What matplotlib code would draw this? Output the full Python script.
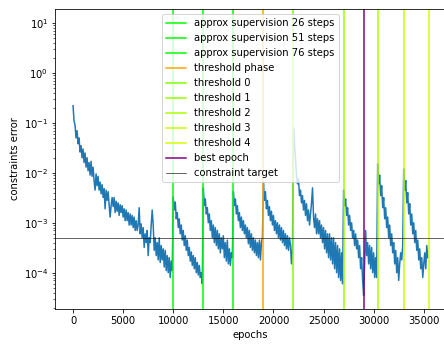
import matplotlib
matplotlib.use("Agg")
import matplotlib.pyplot as plt
import numpy as np

# constraint error logged every 100 epochs, one list per training phase
err_phase0 = [0.22, 0.11, 0.09, 0.05, 0.07, 0.038, 0.05, 0.026, 0.035, 0.02,
              0.03, 0.016, 0.025, 0.013, 0.02, 0.011, 0.016, 0.009, 0.017, 0.0085,
              0.013, 0.007, 0.0045, 0.0095, 0.0055, 0.0085, 0.0045, 0.0065, 0.0038, 0.0058,
              0.0032, 0.0048, 0.0019, 0.0045, 0.0028, 0.0042, 0.0024, 0.0013, 0.0022, 0.0032,
              0.0021, 0.0032, 0.0016, 0.0027, 0.0017, 0.0025, 0.0014, 0.0023, 0.0016, 0.0022,
              0.0013, 0.0019, 0.0011, 0.0018, 0.0011, 0.0016, 0.0009, 0.0015, 0.0009, 0.0014,
              0.0008, 0.0013, 0.0007, 0.0011, 0.0007, 0.0009, 0.002, 0.0006, 0.00095, 0.0005,
              0.0008, 0.00032, 0.0006, 0.0004, 0.0007, 0.00022, 0.0005, 0.0004, 0.0009, 0.0018,
              0.0009, 0.00028, 0.0005, 0.00022, 0.0004, 0.00018, 0.0005, 0.00016, 0.00035, 0.00018,
              0.0003, 0.00013, 0.00028, 0.00011, 0.00022, 0.0001, 0.0002, 0.00008, 0.00017, 0.00011]
err_approx26 = [0.0033, 0.0018, 0.0026, 0.0012, 0.0016, 0.0008, 0.0012, 0.0006, 0.0009, 0.00045,
                0.0007, 0.00035, 0.00055, 0.00028, 0.00045, 0.00022, 0.00032, 0.00017, 0.00026, 0.00014,
                0.00022, 0.00012, 0.0002, 0.0001, 0.00016, 0.00009, 0.00014, 0.00008, 0.0001, 0.00006]
err_approx51 = [0.005, 0.0022, 0.003, 0.0015, 0.002, 0.001, 0.0015, 0.0007, 0.0011, 0.0005,
                0.0009, 0.0004, 0.0008, 0.00035, 0.0007, 0.0003, 0.0006, 0.00025, 0.0005, 0.0003,
                0.00055, 0.0002, 0.0004, 0.00017, 0.00045, 0.00015, 0.0003, 0.00014, 0.00025, 0.0002]
err_approx76 = [0.0042, 0.0022, 0.003, 0.0015, 0.0022, 0.0011, 0.0016, 0.0008, 0.0013, 0.0007,
                0.0011, 0.0006, 0.0009, 0.0005, 0.0008, 0.00038, 0.0007, 0.00032, 0.0006, 0.00028,
                0.0005, 0.00025, 0.00045, 0.00022, 0.0004, 0.0002, 0.00045, 0.00018, 0.0004, 0.0005]
err_thr_phase = [0.0063, 0.0028, 0.0042, 0.0019, 0.0028, 0.0014, 0.0021, 0.0011, 0.0017, 0.0009,
                 0.0014, 0.0007, 0.0011, 0.0006, 0.001, 0.0005, 0.0009, 0.00045, 0.0008, 0.0004,
                 0.0007, 0.00035, 0.0006, 0.0003, 0.00055, 0.00028, 0.0005, 0.00035, 0.00015, 0.0003]
err_thr0 = [0.08, 0.035, 0.02, 0.009, 0.006, 0.0075, 0.0035, 0.0045, 0.0025, 0.0035,
            0.0018, 0.0028, 0.0014, 0.0024, 0.0011, 0.0018, 0.0009, 0.0015, 0.0025, 0.005,
            0.0013, 0.0008, 0.0015, 0.0006, 0.0012, 0.0006, 0.0011, 0.0005, 0.0009, 0.0004,
            0.0008, 0.0003, 0.0007, 0.00025, 0.0006, 0.0002, 0.0006, 0.00018, 0.0005, 0.00015,
            0.0005, 0.00012, 0.0004, 0.0001, 0.00035, 0.00008, 0.0003, 0.00007, 0.00025, 0.00006]
err_thr1 = [0.0045, 0.0022, 0.003, 0.0014, 0.002, 0.0009, 0.0014, 0.0007, 0.001, 0.0005,
            0.0007, 0.00035, 0.0006, 0.0003, 0.00045, 0.0002, 0.00035, 0.00012, 0.0002, 0.00007,
            0.000035, 0.00015, 0.0007, 0.00022, 0.0004, 0.00015, 0.00035, 0.00012, 0.00032, 0.0001,
            0.00025, 0.00008, 0.0002, 0.00008]
err_thr2 = [0.015, 0.006, 0.009, 0.0035, 0.0055, 0.002, 0.0032, 0.0012, 0.002, 0.0008,
            0.0013, 0.0005, 0.0009, 0.00035, 0.0006, 0.00025, 0.0004, 0.00015, 0.00028, 0.0001,
            0.0002, 0.00007, 0.00015, 0.00025, 0.00018, 0.00035]
err_thr3 = [0.012, 0.0045, 0.007, 0.0025, 0.004, 0.0015, 0.0024, 0.0009, 0.0015, 0.0006,
            0.001, 0.0004, 0.0007, 0.00028, 0.00045, 0.00018, 0.0003, 0.00012, 0.0002, 0.00008,
            0.00015, 0.00025, 0.00012, 0.00035, 0.0002]

log_every = 100

approx_epochs = [10000, 13000, 16000]
approx_steps = [26, 51, 76]
threshold_phase_epoch = 19000
threshold_epochs = [22000, 27000, 30400, 33000, 35500]
threshold_colors = ["#80ff00", "#99ff00", "#aaff00", "#c0ff00", "#d4ff00"]
best_epoch = 29000
constraint_target = 5e-4

errors = np.array(err_phase0 + err_approx26 + err_approx51 + err_approx76 + err_thr_phase
                  + err_thr0 + err_thr1 + err_thr2 + err_thr3)
epochs = np.arange(len(errors)) * log_every

fig = plt.figure(figsize=(444 / 72, 344 / 72), dpi=72)
ax = fig.add_axes([55.3 / 444, 35.3 / 344, 390.2 / 444, 299.4 / 344])

ax.plot(epochs, errors)
for ep, steps in zip(approx_epochs, approx_steps):
    ax.axvline(ep, color="lime", label=f"approx supervision {steps} steps")
ax.axvline(threshold_phase_epoch, color="orange", label="threshold phase")
for i, (ep, c) in enumerate(zip(threshold_epochs, threshold_colors)):
    ax.axvline(ep, color=c, label=f"threshold {i}")
ax.axvline(best_epoch, color="purple", label="best epoch")
ax.axhline(constraint_target, color="k", linewidth=0.6, label="constraint target")

ax.set_yscale("log")
ax.set_ylim(1.9e-5, 18.8)
ax.set_xlabel("epochs")
ax.set_ylabel("constraints error")
ax.legend(loc="upper center")

fig.savefig("out.png", dpi=72)
